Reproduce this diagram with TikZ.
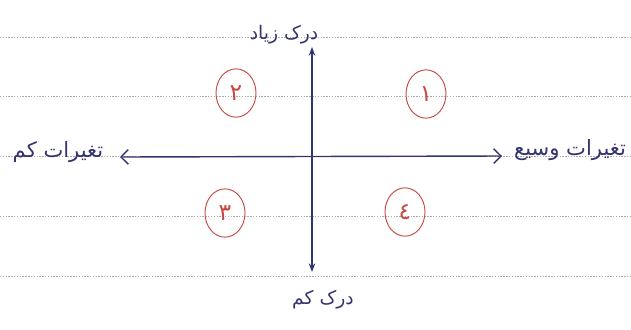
\documentclass[tikz,border=0pt]{standalone}
\usepackage{fontspec}
\usetikzlibrary{arrows.meta, shapes.geometric}
\TeXXeTstate=1
\newfontfamily\persianfont[Script=Arabic]{DejaVu Sans}
\definecolor{inkblue}{RGB}{52,52,112}
\definecolor{inkred}{RGB}{200,72,66}
\definecolor{ruleline}{RGB}{170,170,170}

\begin{document}
\begin{tikzpicture}[x=0.3mm, y=-0.3mm,
    axislabel/.style={font=\persianfont\fontsize{16}{18}\selectfont, text=inkblue, inner sep=1pt},
    quadrant/.style={ellipse, draw=inkred, line width=0.8pt, minimum width=12mm, minimum height=14.5mm,
      inner sep=0pt, text=inkred, font=\persianfont\fontsize{20}{22}\selectfont}]
        \useasboundingbox (0,0) rectangle (631,329);
        % خطوط دفتر
        \foreach \y in {37,96,156,216,276}
          \draw[ruleline, dash pattern=on 1.2pt off 1.2pt] (0,\y) -- (631,\y);
        % برچسب محورها
        \node[axislabel] (high) at (284,35) {\beginR درک زیاد\endR};
        \node[axislabel] (low) at (323,300) {\beginR درک کم\endR};
        \node[axislabel, font=\persianfont\fontsize{18}{20}\selectfont] (narrow) at (58,152) {\beginR تغیرات کم\endR};
        \node[axislabel, font=\persianfont\fontsize{18}{20}\selectfont] (wide) at (570,150) {\beginR تغیرات وسیع\endR};
        % محورها
        \coordinate (top) at (312,47);
        \coordinate (bottom) at (312,272);
        \coordinate (left) at (120,157);
        \coordinate (right) at (502,156);
        \draw[inkblue, line width=1.2pt, {Stealth[length=2.6mm]}-{Stealth[length=2.6mm]}] (bottom) -- (top);
        \draw[inkblue, line width=1.2pt, {Straight Barb[length=2.2mm]}-{Straight Barb[length=2.2mm]}] (left) -- (right);
        % نواحی
        \node[quadrant] (q1) at (426,94) {۱};
        \node[quadrant] (q2) at (236,93) {۲};
        \node[quadrant] (q3) at (225,213) {۳};
        \node[quadrant] (q4) at (405,212) {٤};
      \end{tikzpicture}
\end{document}
